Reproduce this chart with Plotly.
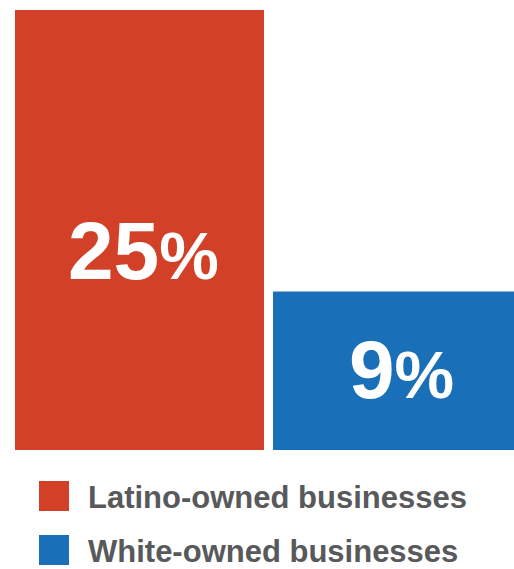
import plotly.graph_objects as go

categories = ["Latino-owned businesses", "White-owned businesses"]
values = [25, 9]
colors = ["#d24027", "#1a70b8"]
label_text = ["25", "9"]

W, H = 514, 569
L, R, T, B = 15, 0, 10, 569 - 450
PW, PH = W - L - R, H - T - B

def px_x(p):
    return (p - L) / PW

def px_y(p):
    return (H - B - p) / PH

unit_px = 258.0            # pixel distance between bar centres
bar_w = 249.0 / unit_px    # bar width in category units

fig = go.Figure()
fig.add_trace(go.Bar(
    x=[0, 1], y=values, width=bar_w,
    marker=dict(color=colors, line=dict(width=0)),
    hoverinfo="skip", showlegend=False,
))

# value labels placed within each bar (fraction of bar height)
label_frac = [0.4545, 0.511]
for i, v in enumerate(values):
    fig.add_annotation(
        x=i + 0.017, y=v * label_frac[i], xref="x", yref="y",
        text=f"{label_text[i]}<span style='font-size:67px'>%</span>",
        showarrow=False, xanchor="center", yanchor="middle",
        font=dict(family="Liberation Sans, Arial, sans-serif", size=82, color="white", weight="bold"),
    )

# custom legend
for i, name in enumerate(categories):
    top = 481 + 54 * i
    fig.add_shape(type="rect", xref="paper", yref="paper",
                  x0=px_x(39), x1=px_x(69), y0=px_y(top + 30), y1=px_y(top),
                  fillcolor=colors[i], line=dict(width=0))
    fig.add_annotation(
        x=px_x(86), y=px_y(top + 16.5), xref="paper", yref="paper",
        text=name, showarrow=False, xanchor="left", yanchor="middle",
        font=dict(family="Liberation Sans, Arial, sans-serif", size=31, color="#58595b", weight="bold"),
    )

x_left = -bar_w / 2
fig.update_layout(
    width=W, height=H,
    margin=dict(l=L, r=R, t=T, b=B, pad=0),
    paper_bgcolor="white", plot_bgcolor="white",
    xaxis=dict(range=[x_left, x_left + PW / unit_px], visible=False, fixedrange=True),
    yaxis=dict(range=[0, 25], visible=False, fixedrange=True),
    showlegend=False,
    hovermode=False,
)
fig.write_html(
    "out.html",
    config={"displayModeBar": False, "staticPlot": True},
    post_script="document.body.style.margin='0';document.body.style.overflow='hidden';",
)
